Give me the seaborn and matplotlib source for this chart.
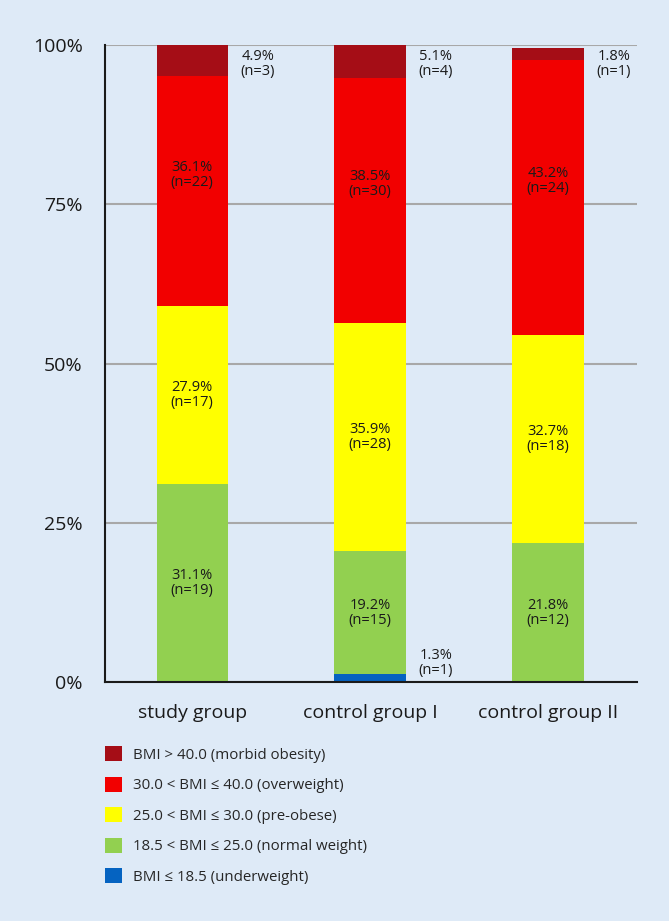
import numpy as np
import matplotlib
matplotlib.use("Agg")
import matplotlib.pyplot as plt
import seaborn as sns
from matplotlib.patches import Patch

# data: share (%) and counts per BMI class, bottom to top
groups = ["study group", "control group I", "control group II"]
classes = ["BMI \u2264 18.5 (underweight)",
           "18.5 < BMI \u2264 25.0 (normal weight)",
           "25.0 < BMI \u2264 30.0 (pre-obese)",
           "30.0 < BMI \u2264 40.0 (overweight)",
           "BMI > 40.0 (morbid obesity)"]
underweight = [0.0, 1.3, 0.0]
normal = [31.1, 19.2, 21.8]
preobese = [27.9, 35.9, 32.7]
overweight = [36.1, 38.5, 43.2]
morbid = [4.9, 5.1, 1.8]
n_underweight = [0, 1, 0]
n_normal = [19, 15, 12]
n_preobese = [17, 28, 18]
n_overweight = [22, 30, 24]
n_morbid = [3, 4, 1]
colors = ["#0563c1", "#92d050", "#ffff00", "#f20000", "#a50d16"]

bg = "#deeaf7"
sns.set_style("white")
plt.rcParams["font.family"] = ["Open Sans", "DejaVu Sans"]

vals = np.array([underweight, normal, preobese, overweight, morbid])
counts = np.array([n_underweight, n_normal, n_preobese, n_overweight, n_morbid])
cum = np.cumsum(vals, axis=0)

fig = plt.figure(figsize=(6.69, 9.21), dpi=100, facecolor=bg)
ax = fig.add_axes([0.157, 0.2595, 0.795, 0.6915])
ax.set_facecolor(bg)

# stacked bars: draw cumulative totals from the top down so they overlap
for i in range(len(classes) - 1, -1, -1):
    sns.barplot(x=groups, y=cum[i], color=colors[i], saturation=1, width=0.4,
                ax=ax, linewidth=0, zorder=2)

# segment labels
lab_kw = dict(ha="center", va="center", fontsize=10.5, linespacing=1.0, color="#1a1a1a")
for i in range(len(classes)):
    for j in range(len(groups)):
        v = vals[i, j]
        if v == 0:
            continue
        txt = f"{v:.1f}%\n(n={counts[i, j]})"
        mid = cum[i, j] - v / 2
        if i == len(classes) - 1:
            ax.text(j + 0.37, 97, txt, **lab_kw)
        elif v < 3:
            ax.text(j + 0.37, 3, txt, **lab_kw)
        elif i == 3:
            # overweight labels sit a little above the middle
            ax.text(j, mid + 2.5, txt, **lab_kw)
        else:
            ax.text(j, mid, txt, **lab_kw)

ax.set_xlim(-0.49, 2.5)
ax.set_ylim(0, 100)
ax.set_yticks([0, 25, 50, 75, 100])
ax.set_yticklabels(["0%", "25%", "50%", "75%", "100%"])
ax.yaxis.grid(True, color="#a8a8a8", linewidth=1.5, zorder=0)
ax.set_axisbelow(True)
ax.tick_params(axis="y", length=0, pad=16, labelsize=14, labelcolor="#1a1a1a")
ax.tick_params(axis="x", length=0, pad=16, labelsize=14, labelcolor="#1a1a1a")
ax.set_xlabel("")
ax.set_ylabel("")
for s in ["top", "right"]:
    ax.spines[s].set_visible(False)
for s in ["left", "bottom"]:
    ax.spines[s].set_color("#1a1a1a")
    ax.spines[s].set_linewidth(1.5)

# legend below the plot, top class first
handles = [Patch(facecolor=colors[i], edgecolor="none", label=classes[i])
           for i in range(len(classes) - 1, -1, -1)]
fig.legend(handles=handles, loc="upper left", bbox_to_anchor=(0.148, 0.196),
           frameon=False, fontsize=10.8, handlelength=1.15, handleheight=1.15,
           handletextpad=0.7, labelspacing=0.93, borderaxespad=0)

fig.savefig("out.png", dpi=100, facecolor=bg)
